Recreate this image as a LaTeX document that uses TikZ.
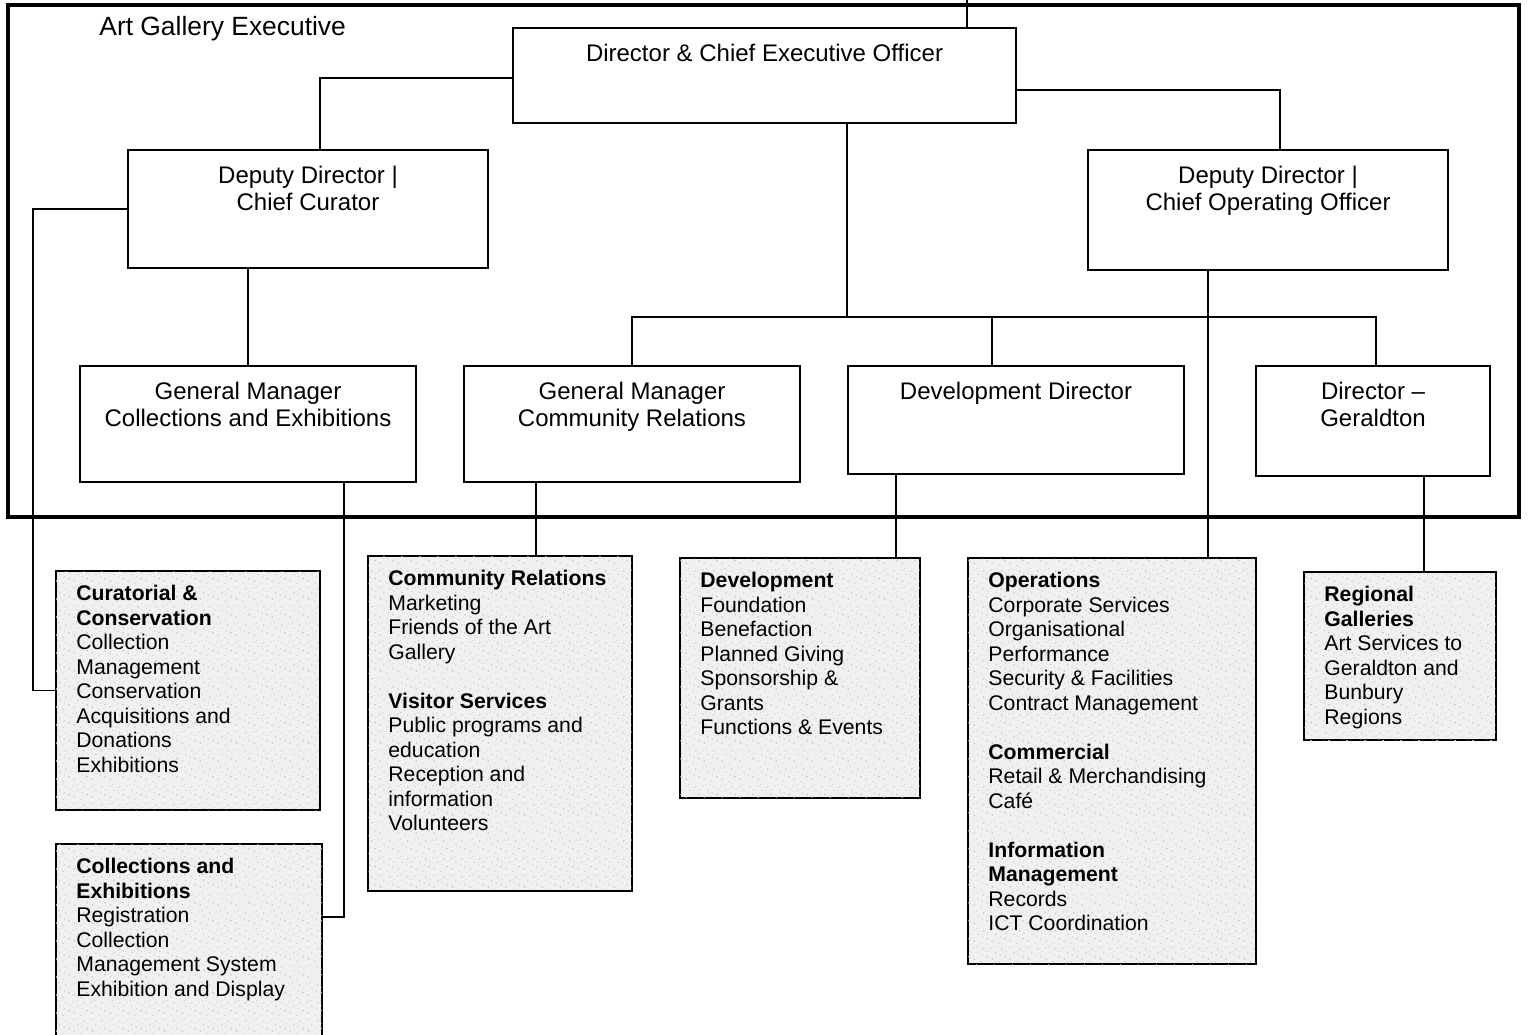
\documentclass[tikz,border=0pt]{standalone}
\usepackage{fontspec}
\setmainfont{Liberation Sans}
\usetikzlibrary{positioning,calc,patterns}
\pgfdeclarepatternformonly{granite}{\pgfqpoint{0pt}{0pt}}{\pgfqpoint{9pt}{9pt}}{\pgfqpoint{9pt}{9pt}}{
    \pgfpathcircle{\pgfqpoint{1.2pt}{2.1pt}}{0.45pt}
    \pgfpathcircle{\pgfqpoint{4.7pt}{0.8pt}}{0.35pt}
    \pgfpathcircle{\pgfqpoint{7.9pt}{3.3pt}}{0.5pt}
    \pgfpathcircle{\pgfqpoint{3.1pt}{5.6pt}}{0.4pt}
    \pgfpathcircle{\pgfqpoint{6.2pt}{7.4pt}}{0.45pt}
    \pgfpathcircle{\pgfqpoint{0.6pt}{7.9pt}}{0.35pt}
    \pgfpathcircle{\pgfqpoint{8.3pt}{6.1pt}}{0.3pt}
    \pgfpathcircle{\pgfqpoint{5.4pt}{4.2pt}}{0.35pt}
    \pgfpathcircle{\pgfqpoint{2.4pt}{8.6pt}}{0.3pt}
    \pgfusepath{fill}
}
\tikzset{
    link/.style={line width=0.75pt},
    headbox/.style 2 args={draw,line width=1pt,fill=white,anchor=north west,inner sep=0pt,
        minimum width=#1*0.5pt,minimum height=#2*0.5pt},
    unitbox/.style 2 args={draw,line width=1pt,fill=black!6,anchor=north west,inner sep=0pt,
        minimum width=#1*0.5pt,minimum height=#2*0.5pt,
        postaction={pattern=granite,pattern color=black!22}},
    headtext/.style={anchor=north,inner sep=0pt,align=center,font=\fontsize{12}{13.5}\selectfont},
    unittext/.style={anchor=north west,inner sep=0pt,align=left,font=\fontsize{10.6}{12.25}\selectfont},
}

\begin{document}
\begin{tikzpicture}[x=0.5pt,y=-0.5pt]
\clip (0,0) rectangle (1529,1034);
\fill[white] (0,0) rectangle (1529,1034);
\draw[line width=1.75pt] (8,5) rectangle (1519,517);
\node[anchor=west,inner sep=0pt,font=\fontsize{13.2}{15}\selectfont] (exec) at (99,29) {Art Gallery Executive};

% executive boxes
\node[headbox={503}{95}] (ceo) at (512,27) {};
\node[headbox={360}{118}] (ddc) at (127,149) {};
\node[headbox={360}{120}] (ddo) at (1087,149) {};
\node[headbox={336}{116}] (gmc) at (79,365) {};
\node[headbox={336}{116}] (gmr) at (463,365) {};
\node[headbox={336}{108}] (dev) at (847,365) {};
\node[headbox={234}{110}] (ger) at (1255,365) {};

\node[headtext] (ceot) at ([yshift=-8.2pt]ceo.north) {Director \& Chief Executive Officer};
\node[headtext] (ddct) at ([yshift=-8.2pt]ddc.north) {Deputy Director |\\Chief Curator};
\node[headtext] (ddot) at ([yshift=-8.2pt]ddo.north) {Deputy Director |\\Chief Operating Officer};
\node[headtext] (gmct) at ([yshift=-8.2pt]gmc.north) {General Manager\\Collections and Exhibitions};
\node[headtext] (gmrt) at ([yshift=-8.2pt]gmr.north) {General Manager\\Community Relations};
\node[headtext] (devt) at ([yshift=-8.2pt]dev.north) {Development Director};
\node[headtext] (gert) at ([yshift=-8.2pt]ger.north) {Director --\\Geraldton};

% units
\node[unitbox={264}{239}] (cur) at (55,570) {};
\node[unitbox={266}{220}] (col) at (55,843) {};
\node[unitbox={264}{335}] (com) at (367,555) {};
\node[unitbox={240}{240}] (dvl) at (679,557) {};
\node[unitbox={288}{406}] (ops) at (967,557) {};
\node[unitbox={192}{168}] (reg) at (1303,571) {};

\node[unittext] (curt) at ([shift={(10.5pt,-7.5pt)}]cur.north west)
    {\textbf{Curatorial \&}\\\textbf{Conservation}\\Collection\\Management\\Conservation\\Acquisitions and\\Donations\\Exhibitions};
\node[unittext] (colt) at ([shift={(10.5pt,-7.5pt)}]col.north west)
    {\textbf{Collections and}\\\textbf{Exhibitions}\\Registration\\Collection\\Management System\\Exhibition and Display};
\node[unittext] (comt) at ([shift={(10.5pt,-7.5pt)}]com.north west)
    {\textbf{Community Relations}\\Marketing\\Friends of the Art\\Gallery\\[12.25pt]
     \textbf{Visitor Services}\\Public programs and\\education\\Reception and\\information\\Volunteers};
\node[unittext] (dvlt) at ([shift={(10.5pt,-7.5pt)}]dvl.north west)
    {\textbf{Development}\\Foundation\\Benefaction\\Planned Giving\\Sponsorship \&\\Grants\\Functions \& Events};
\node[unittext] (opst) at ([shift={(10.5pt,-7.5pt)}]ops.north west)
    {\textbf{Operations}\\Corporate Services\\Organisational\\Performance\\Security \& Facilities\\Contract Management\\[12.25pt]
     \textbf{Commercial}\\Retail \& Merchandising\\Café\\[12.25pt]
     \textbf{Information}\\\textbf{Management}\\Records\\ICT Coordination};
\node[unittext] (regt) at ([shift={(10.5pt,-7.5pt)}]reg.north west)
    {\textbf{Regional}\\\textbf{Galleries}\\Art Services to\\Geraldton and\\Bunbury\\Regions};

% reporting lines
\coordinate (board) at (967,0);
\coordinate (bus) at (847,317);
\draw[link] (board) -- (board |- ceo.north);
\draw[link] ([yshift=-1.25pt]ceo.west) -| ([xshift=6pt]ddc.north);
\draw[link] ([yshift=-7.25pt]ceo.east) -| ([xshift=6pt]ddo.north);
\draw[link] (bus |- ceo.south) -- (bus);
\draw[link] (gmr.north) |- (bus) -| ([xshift=1.5pt]ger.north);
\draw[link] ([xshift=-12pt]dev.north) -- ([xshift=-12pt]dev.north |- bus);
\draw[link] (gmc.north) -- (gmc.north |- ddc.south);
\draw[link] (ddc.west) -- ++(-94,0) |- (cur.west);
\draw[link] ([xshift=48pt]gmc.south) |- ([yshift=-37pt]col.north east);
\draw[link] ([xshift=-48pt]gmr.south) -- ([xshift=-48pt]gmr.south |- com.north);
\draw[link] ([xshift=-60pt]dev.south) -- ([xshift=-60pt]dev.south |- dvl.north);
\draw[link] ([xshift=-30pt]ddo.south) -- ([xshift=-30pt]ddo.south |- ops.north);
\draw[link] ([xshift=25.5pt]ger.south) -- ([xshift=25.5pt]ger.south |- reg.north);
\end{tikzpicture}
\end{document}
